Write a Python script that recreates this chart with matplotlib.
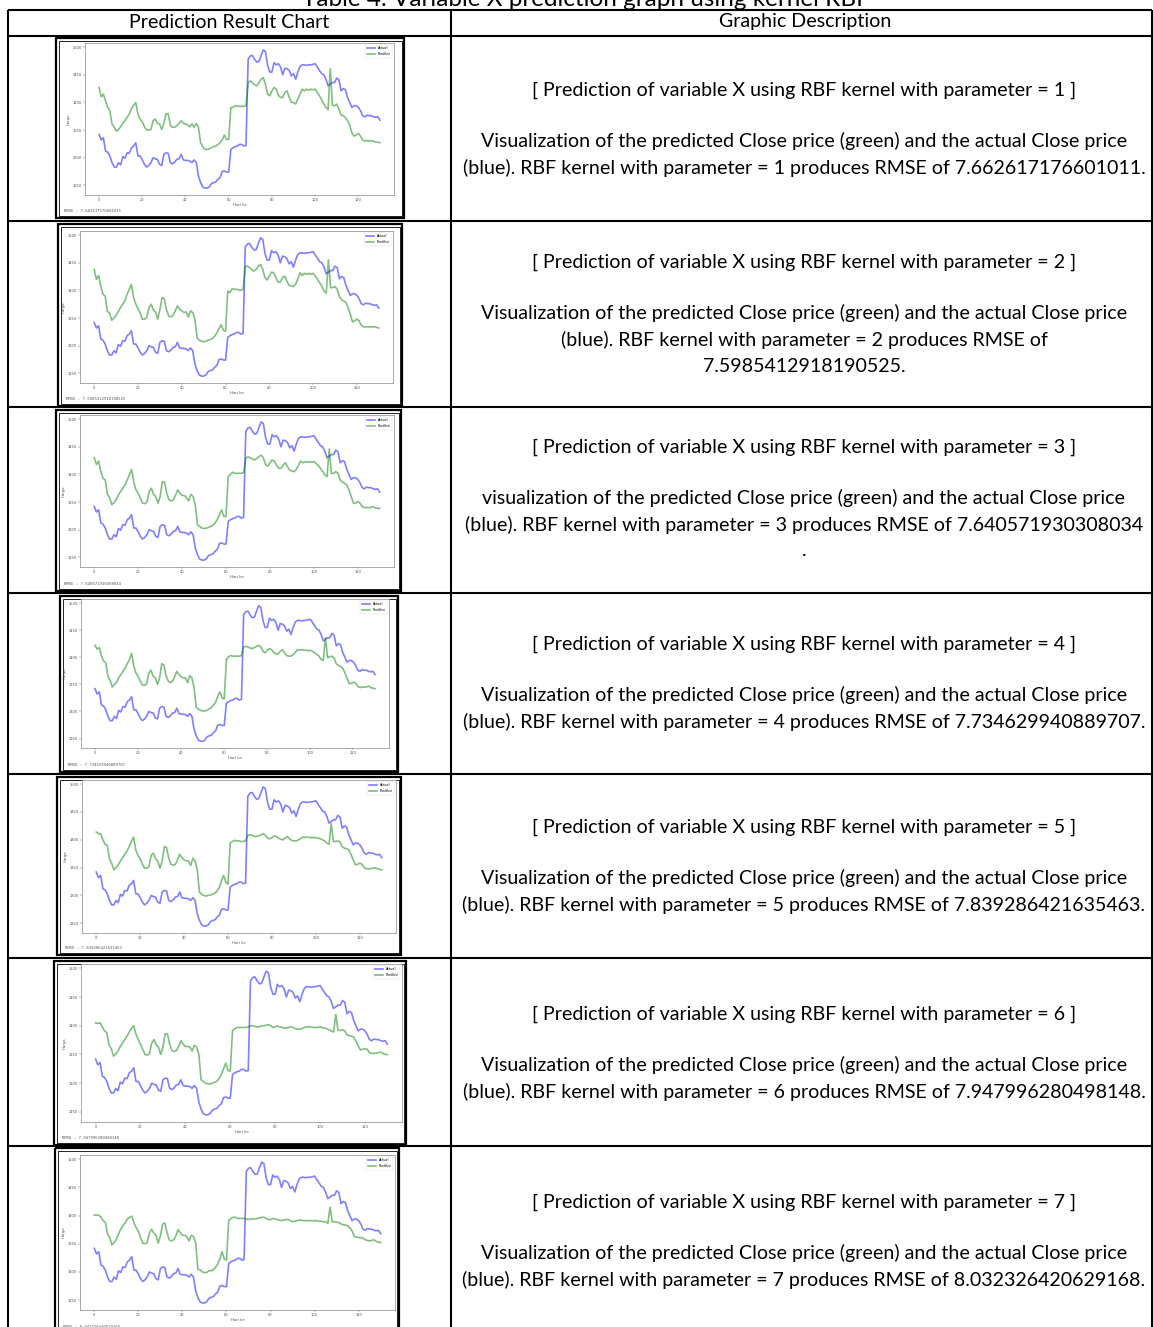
import matplotlib
matplotlib.use("Agg")
import matplotlib.pyplot as plt
from matplotlib.patches import Rectangle

W, H = 1153, 1327

days = list(range(131))

actual = [1342, 1332, 1336, 1312, 1310, 1303, 1291, 1283, 1283, 1291,
          1287, 1302, 1299, 1309, 1308, 1318, 1321, 1327, 1303, 1303,
          1296, 1288, 1283, 1286, 1291, 1300, 1298, 1297, 1288, 1286,
          1306, 1309, 1308, 1291, 1289, 1292, 1297, 1298, 1306, 1296,
          1295, 1295, 1294, 1291, 1296, 1291, 1267, 1255, 1247, 1245,
          1245, 1247, 1253, 1255, 1256, 1261, 1264, 1275, 1276, 1274,
          1274, 1315, 1318, 1320, 1321, 1324, 1324, 1321, 1322, 1478,
          1484, 1485, 1478, 1473, 1474, 1485, 1495, 1492, 1467, 1455,
          1455, 1472, 1468, 1470, 1464, 1450, 1462, 1461, 1458, 1448,
          1452, 1442, 1455, 1465, 1468, 1468, 1467, 1468, 1468, 1469,
          1470, 1464, 1458, 1452, 1450, 1442, 1430, 1433, 1436, 1436,
          1444, 1441, 1421, 1425, 1423, 1409, 1400, 1391, 1394, 1394,
          1391, 1385, 1376, 1374, 1377, 1376, 1376, 1374, 1373, 1374,
          1368]

pred_1 = [1427, 1410, 1415, 1403, 1391, 1385, 1361, 1356, 1348, 1351,
          1356, 1362, 1367, 1373, 1379, 1389, 1395, 1400, 1379, 1370,
          1365, 1356, 1350, 1350, 1351, 1367, 1370, 1362, 1361, 1351,
          1362, 1380, 1379, 1359, 1355, 1355, 1358, 1362, 1367, 1362,
          1361, 1359, 1356, 1361, 1355, 1362, 1355, 1327, 1320, 1315,
          1315, 1316, 1318, 1320, 1321, 1324, 1327, 1332, 1341, 1333,
          1333, 1391, 1391, 1394, 1393, 1393, 1393, 1393, 1394, 1436,
          1439, 1436, 1432, 1430, 1436, 1442, 1445, 1433, 1415, 1412,
          1421, 1427, 1424, 1413, 1409, 1409, 1418, 1421, 1409, 1400,
          1400, 1397, 1406, 1415, 1424, 1421, 1424, 1422, 1424, 1423,
          1424, 1418, 1412, 1405, 1397, 1391, 1387, 1461, 1395, 1394,
          1397, 1388, 1377, 1376, 1373, 1367, 1359, 1345, 1339, 1341,
          1344, 1339, 1332, 1330, 1331, 1330, 1331, 1330, 1328, 1328,
          1327]

pred_2 = [1438, 1420, 1427, 1408, 1393, 1390, 1362, 1359, 1346, 1350,
          1355, 1362, 1369, 1375, 1381, 1393, 1402, 1411, 1387, 1375,
          1367, 1359, 1348, 1348, 1351, 1369, 1375, 1365, 1361, 1348,
          1365, 1387, 1385, 1365, 1354, 1352, 1355, 1363, 1372, 1366,
          1363, 1360, 1361, 1352, 1363, 1360, 1348, 1314, 1310, 1308,
          1307, 1308, 1310, 1311, 1313, 1317, 1323, 1331, 1338, 1328,
          1326, 1399, 1396, 1403, 1402, 1402, 1401, 1400, 1402, 1443,
          1444, 1441, 1437, 1435, 1438, 1444, 1447, 1438, 1423, 1419,
          1426, 1433, 1432, 1423, 1415, 1415, 1423, 1426, 1417, 1409,
          1408, 1407, 1411, 1421, 1432, 1427, 1431, 1429, 1431, 1429,
          1431, 1426, 1420, 1414, 1408, 1399, 1395, 1455, 1405, 1405,
          1407, 1402, 1389, 1383, 1381, 1378, 1369, 1357, 1343, 1345,
          1348, 1345, 1337, 1334, 1334, 1334, 1334, 1334, 1334, 1333,
          1332]

pred_3 = [1430, 1418, 1424, 1405, 1393, 1390, 1364, 1358, 1345, 1349,
          1354, 1363, 1369, 1375, 1381, 1390, 1399, 1409, 1386, 1372,
          1366, 1357, 1348, 1347, 1350, 1369, 1375, 1364, 1360, 1348,
          1360, 1387, 1386, 1366, 1354, 1352, 1354, 1362, 1372, 1366,
          1362, 1362, 1358, 1352, 1364, 1360, 1345, 1309, 1306, 1303,
          1302, 1303, 1304, 1306, 1308, 1312, 1318, 1327, 1336, 1324,
          1324, 1396, 1400, 1404, 1402, 1402, 1402, 1402, 1403, 1429,
          1432, 1430, 1428, 1426, 1429, 1432, 1435, 1430, 1418, 1415,
          1421, 1426, 1424, 1417, 1411, 1411, 1417, 1421, 1414, 1408,
          1406, 1405, 1409, 1417, 1424, 1421, 1423, 1422, 1423, 1422,
          1423, 1420, 1416, 1411, 1406, 1399, 1396, 1446, 1402, 1402,
          1405, 1402, 1390, 1386, 1384, 1381, 1372, 1360, 1348, 1348,
          1351, 1348, 1342, 1340, 1340, 1340, 1340, 1342, 1339, 1339,
          1338]

pred_4 = [1422, 1415, 1418, 1402, 1393, 1390, 1365, 1358, 1345, 1350,
          1354, 1362, 1368, 1374, 1380, 1388, 1396, 1407, 1384, 1371,
          1365, 1356, 1349, 1348, 1351, 1371, 1376, 1365, 1362, 1350,
          1362, 1388, 1386, 1366, 1356, 1353, 1356, 1364, 1374, 1368,
          1364, 1362, 1362, 1353, 1366, 1362, 1344, 1308, 1304, 1302,
          1301, 1301, 1302, 1305, 1307, 1311, 1317, 1328, 1336, 1325,
          1323, 1396, 1401, 1403, 1402, 1402, 1402, 1402, 1403, 1419,
          1420, 1419, 1417, 1416, 1418, 1420, 1422, 1419, 1411, 1408,
          1413, 1416, 1414, 1409, 1406, 1406, 1411, 1414, 1408, 1403,
          1402, 1402, 1405, 1409, 1414, 1413, 1414, 1413, 1413, 1412,
          1413, 1411, 1408, 1405, 1402, 1396, 1394, 1436, 1399, 1401,
          1402, 1399, 1388, 1385, 1383, 1380, 1371, 1362, 1351, 1352,
          1354, 1353, 1346, 1344, 1345, 1345, 1345, 1347, 1344, 1343,
          1342]

pred_5 = [1414, 1411, 1411, 1400, 1392, 1390, 1366, 1358, 1346, 1350,
          1355, 1362, 1368, 1374, 1380, 1388, 1397, 1405, 1382, 1372,
          1366, 1356, 1349, 1349, 1352, 1372, 1376, 1366, 1362, 1349,
          1362, 1388, 1386, 1367, 1356, 1354, 1356, 1364, 1374, 1368,
          1364, 1362, 1362, 1354, 1367, 1362, 1346, 1306, 1302, 1300,
          1299, 1300, 1301, 1302, 1304, 1308, 1314, 1326, 1336, 1324,
          1320, 1394, 1397, 1399, 1398, 1398, 1397, 1397, 1398, 1408,
          1409, 1408, 1406, 1406, 1407, 1409, 1411, 1408, 1403, 1402,
          1404, 1407, 1406, 1403, 1401, 1400, 1403, 1406, 1402, 1399,
          1398, 1398, 1400, 1402, 1405, 1404, 1405, 1404, 1404, 1404,
          1404, 1403, 1402, 1400, 1398, 1394, 1392, 1429, 1397, 1397,
          1398, 1396, 1388, 1385, 1384, 1382, 1374, 1364, 1355, 1356,
          1358, 1356, 1350, 1348, 1348, 1348, 1349, 1350, 1348, 1347,
          1346]

pred_6 = [1405, 1404, 1405, 1398, 1391, 1388, 1366, 1360, 1347, 1351,
          1356, 1364, 1370, 1376, 1382, 1389, 1396, 1400, 1385, 1376,
          1368, 1359, 1350, 1349, 1351, 1370, 1376, 1367, 1363, 1350,
          1363, 1386, 1386, 1368, 1357, 1355, 1357, 1364, 1374, 1368,
          1364, 1364, 1363, 1356, 1366, 1363, 1350, 1306, 1303, 1300,
          1299, 1299, 1300, 1302, 1303, 1308, 1315, 1325, 1335, 1322,
          1321, 1391, 1395, 1397, 1397, 1397, 1397, 1397, 1398, 1400,
          1400, 1399, 1398, 1398, 1400, 1400, 1401, 1402, 1400, 1397,
          1398, 1400, 1398, 1397, 1396, 1396, 1397, 1398, 1397, 1395,
          1394, 1394, 1395, 1397, 1398, 1398, 1398, 1397, 1397, 1397,
          1398, 1397, 1396, 1395, 1393, 1391, 1389, 1420, 1392, 1392,
          1393, 1391, 1384, 1383, 1382, 1380, 1373, 1365, 1358, 1359,
          1360, 1359, 1353, 1352, 1352, 1352, 1353, 1354, 1352, 1350,
          1350]

pred_7 = [1401, 1401, 1401, 1397, 1391, 1388, 1367, 1361, 1348, 1352,
          1358, 1367, 1376, 1382, 1387, 1394, 1397, 1399, 1387, 1379,
          1372, 1361, 1351, 1350, 1352, 1369, 1376, 1369, 1365, 1351,
          1364, 1385, 1387, 1370, 1357, 1355, 1357, 1364, 1375, 1370,
          1365, 1365, 1363, 1355, 1365, 1363, 1352, 1305, 1304, 1300,
          1299, 1299, 1302, 1302, 1304, 1308, 1314, 1323, 1336, 1323,
          1321, 1391, 1395, 1397, 1397, 1395, 1395, 1395, 1395, 1394,
          1393, 1394, 1394, 1394, 1395, 1396, 1397, 1397, 1395, 1393,
          1393, 1395, 1394, 1393, 1392, 1391, 1392, 1393, 1393, 1391,
          1389, 1390, 1391, 1392, 1392, 1391, 1391, 1391, 1391, 1391,
          1391, 1391, 1390, 1390, 1389, 1389, 1386, 1415, 1389, 1389,
          1388, 1388, 1385, 1384, 1383, 1382, 1378, 1373, 1363, 1362,
          1361, 1361, 1360, 1357, 1356, 1355, 1356, 1357, 1354, 1353,
          1352]

predictions = [pred_1, pred_2, pred_3, pred_4, pred_5, pred_6, pred_7]
params = [1, 2, 3, 4, 5, 6, 7]
rmse_text = ["7.662617176601011", "7.5985412918190525", "7.640571930308034",
             "7.734629940889707", "7.839286421635463", "7.947996280498148",
             "8.032326420629168"]

x_ticks = [0, 20, 40, 60, 80, 100, 120]
y_ticks = [1250, 1300, 1350, 1400, 1450, 1500]

# description lines, wrapped like the source document
desc_lines = [
    ["Visualization of the predicted Close price (green) and the actual Close price",
     "(blue). RBF kernel with parameter = 1 produces RMSE of 7.662617176601011."],
    ["Visualization of the predicted Close price (green) and the actual Close price",
     "(blue). RBF kernel with parameter = 2 produces RMSE of",
     "7.5985412918190525."],
    ["visualization of the predicted Close price (green) and the actual Close price",
     "(blue). RBF kernel with parameter = 3 produces RMSE of 7.640571930308034",
     "."],
    ["Visualization of the predicted Close price (green) and the actual Close price",
     "(blue). RBF kernel with parameter = 4 produces RMSE of 7.734629940889707."],
    ["Visualization of the predicted Close price (green) and the actual Close price",
     "(blue). RBF kernel with parameter = 5 produces RMSE of 7.839286421635463."],
    ["Visualization of the predicted Close price (green) and the actual Close price",
     "(blue). RBF kernel with parameter = 6 produces RMSE of 7.947996280498148."],
    ["Visualization of the predicted Close price (green) and the actual Close price",
     "(blue). RBF kernel with parameter = 7 produces RMSE of 8.032326420629168."],
]

# layout in pixels (x0, y0, x1, y1)
row_lines = [10, 36, 221, 407, 593, 774, 958, 1146]
frames = [(56, 38, 404, 218), (58, 224, 402, 406), (56, 410, 401, 591),
          (60, 596, 398, 772), (57, 777, 401, 955), (54, 961, 406, 1145),
          (55, 1148, 399, 1340)]
plot_boxes = [(85, 43, 394, 195), (80, 231, 393, 383), (80, 415, 394, 567),
              (81, 599, 389, 748), (82, 780, 396, 933), (81, 964, 402, 1122),
              (80, 1155, 395, 1310)]
desc_y = [90, 262, 447, 644, 827, 1014, 1202]

FONT = ["Lato", "DejaVu Sans"]
FS = 14.1

fig = plt.figure(figsize=(W / 100, H / 100), dpi=100)
bg = fig.add_axes([0, 0, 1, 1])
bg.set_xlim(0, W)
bg.set_ylim(H, 0)
bg.axis("off")

# table grid
col_x = [8, 451, 1152]
for y in row_lines:
    bg.plot([col_x[0], col_x[2]], [y, y], color="black", lw=1.5, solid_capstyle="butt")
for x in col_x:
    bg.plot([x, x], [row_lines[0], H], color="black", lw=1.5, solid_capstyle="butt")

# caption above the table (cut by the top edge as in the source page)
bg.text(586, 6, "Table 4. Variable X prediction graph using kernel RBF", ha="center",
        va="baseline", fontsize=17.5, family=FONT)
bg.text(229, 22, "Prediction Result Chart", ha="center", va="center", fontsize=FS, family=FONT)
bg.text(805, 22, "Graphic Description", ha="center", va="center", fontsize=FS, family=FONT)

for i in range(7):
    bg.text(804, desc_y[i], f"[ Prediction of variable X using RBF kernel with parameter = {params[i]} ]",
            ha="center", va="center", fontsize=FS, family=FONT)
    for j, line in enumerate(desc_lines[i]):
        bg.text(804, desc_y[i] + 51 + 26.5 * j, line, ha="center", va="center",
                fontsize=FS, family=FONT)

    # screenshot frame
    fx0, fy0, fx1, fy1 = frames[i]
    bg.add_patch(Rectangle((fx0, fy0), fx1 - fx0, fy1 - fy0, fill=False, ec="black", lw=1.6))
    bg.add_patch(Rectangle((fx0 + 2.5, fy0 + 2.5), fx1 - fx0 - 5, fy1 - fy0 - 5, fill=False,
                           ec="black", lw=0.6))

    px0, py0, px1, py1 = plot_boxes[i]
    ax = fig.add_axes([px0 / W, 1 - py1 / H, (px1 - px0) / W, (py1 - py0) / H])
    ax.plot(days, actual, color="blue", alpha=0.5, lw=1.2, label="Actual")
    ax.plot(days, predictions[i], color="green", alpha=0.5, lw=1.2, label="Prediksi")
    ax.set_xticks(x_ticks)
    ax.set_yticks(y_ticks)
    ax.tick_params(labelsize=2.6, length=1.2, width=0.3, pad=1, colors="#555555")
    for s in ax.spines.values():
        s.set_linewidth(0.5)
        s.set_color("#888888")
    ax.set_xlabel("Hari ke", fontsize=2.8, labelpad=1, color="#555555")
    ax.set_ylabel("Harga", fontsize=2.8, labelpad=1.5, color="#555555")
    ax.legend(loc="upper right", fontsize=2.4, frameon=True, handlelength=2.5, borderpad=0.5,
              framealpha=1, edgecolor="#dddddd").get_frame().set_linewidth(0.3)
    bg.text(fx0 + 8, py1 + (fy1 - py1 if i < 6 else 24) * 0.7, f"RMSE : {rmse_text[i]}",
            fontsize=2.8, family="DejaVu Sans Mono", color="#555555", va="center")

fig.savefig("out.png", dpi=100)
